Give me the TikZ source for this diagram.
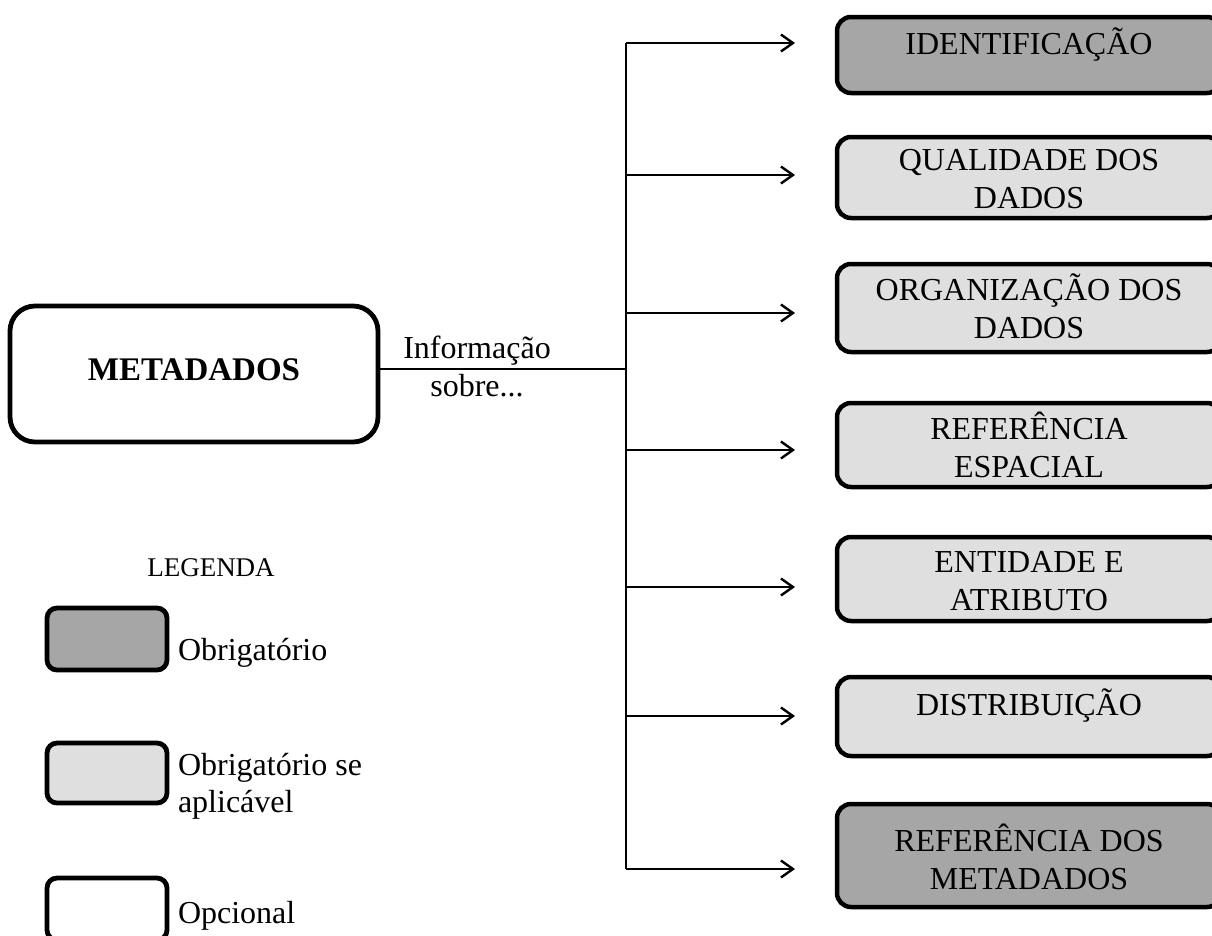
\documentclass[tikz,border=0pt]{standalone}
\usepackage{fontspec}
\setmainfont{Liberation Serif}
\usetikzlibrary{arrows.meta}
\definecolor{reqfill}{HTML}{A6A6A6}
\definecolor{condfill}{HTML}{DFDFDF}
\begin{document}
\begin{tikzpicture}[x=1pt,y=-1pt,
  every node/.style={inner sep=0pt, outer sep=0pt},
  card/.style={draw=black, line width=4.5pt, rounded corners=14pt, anchor=north west, minimum width=384pt},
  req/.style={card, fill=reqfill},
  cond/.style={card, fill=condfill},
  keybox/.style={draw=black, line width=4.8pt, rounded corners=10pt, anchor=north west, minimum width=120pt, minimum height=62pt},
  lbl/.style={font=\fontsize{32}{37.5}\selectfont, align=center, anchor=base},
  note/.style={font=\fontsize{32}{37}\selectfont, align=left, anchor=base west},
  link/.style={line width=2.2pt},
  arr/.style={link, -{Straight Barb[length=12pt,width=17pt,line width=2.4pt]}, shorten >=42pt}
]
\clip (0,0) rectangle (1212,935);

% main box
\node[draw=black, line width=4.8pt, rounded corners=25pt, anchor=north west,
      minimum width=368pt, minimum height=136pt] (meta) at (10,306) {};
\node[lbl, font=\fontsize{33}{37}\selectfont\bfseries] (metatxt) at ([yshift=-74pt]meta.north) {METADADOS};

% metadata sections (base anchor of a two-line label sits on its last line)
\node[req,  minimum height=76pt]  (ident)   at (837,17)  {};
\node[cond, minimum height=81pt]  (qual)    at (837,137) {};
\node[cond, minimum height=88pt]  (org)     at (837,264) {};
\node[cond, minimum height=84pt]  (refesp)  at (837,403) {};
\node[cond, minimum height=84pt]  (ent)     at (837,537) {};
\node[cond, minimum height=79pt]  (dist)    at (837,677) {};
\node[req,  minimum height=103pt] (refmeta) at (837,804) {};

\node[lbl] (identtxt)   at ([yshift=-37pt]ident.north)   {IDENTIFICAÇÃO};
\node[lbl] (qualtxt)    at ([yshift=-71pt]qual.north)    {QUALIDADE DOS\\DADOS};
\node[lbl] (orgtxt)     at ([yshift=-74pt]org.north)     {ORGANIZAÇÃO DOS\\DADOS};
\node[lbl] (refesptxt)  at ([yshift=-74pt]refesp.north)  {REFERÊNCIA\\ESPACIAL};
\node[lbl] (enttxt)     at ([yshift=-73pt]ent.north)     {ENTIDADE E\\ATRIBUTO};
\node[lbl] (disttxt)    at ([yshift=-38pt]dist.north)    {DISTRIBUIÇÃO};
\node[lbl] (refmetatxt) at ([yshift=-85pt]refmeta.north) {REFERÊNCIA DOS\\METADADOS};

% connector label
\node[lbl] (about) at (477,396) {Informação\\sobre...};

% branch points on the trunk
\coordinate (hub) at (626,369);
\coordinate (s1) at (626,43);
\coordinate (s2) at (626,175);
\coordinate (s3) at (626,313);
\coordinate (s4) at (626,450);
\coordinate (s5) at (626,587);
\coordinate (s6) at (626,716);
\coordinate (s7) at (626,869);

\draw[link] (hub -| meta.east) -- (hub);
\draw[link] (s1) -- (s7);
\draw[arr] (s1) -- (s1 -| ident.west);
\draw[arr] (s2) -- (s2 -| qual.west);
\draw[arr] (s3) -- (s3 -| org.west);
\draw[arr] (s4) -- (s4 -| refesp.west);
\draw[arr] (s5) -- (s5 -| ent.west);
\draw[arr] (s6) -- (s6 -| dist.west);
\draw[arr] (s7) -- (s7 -| refmeta.west);

% legend
\node[font=\fontsize{27}{32}\selectfont, anchor=base] (legtitle) at (211,576) {LEGENDA};
\node[keybox, fill=reqfill]  (k1) at (47,608) {};
\node[keybox, fill=condfill, minimum height=60pt] (k2) at (47,743) {};
\node[keybox, fill=white] (k3) at (47,878) {};
\node[note] (k1txt) at (178,660) {Obrigatório};
\node[note] (k2txt) at (178,812) {Obrigatório se\\aplicável};
\node[note] (k3txt) at (178,923) {Opcional};
\end{tikzpicture}
\end{document}
